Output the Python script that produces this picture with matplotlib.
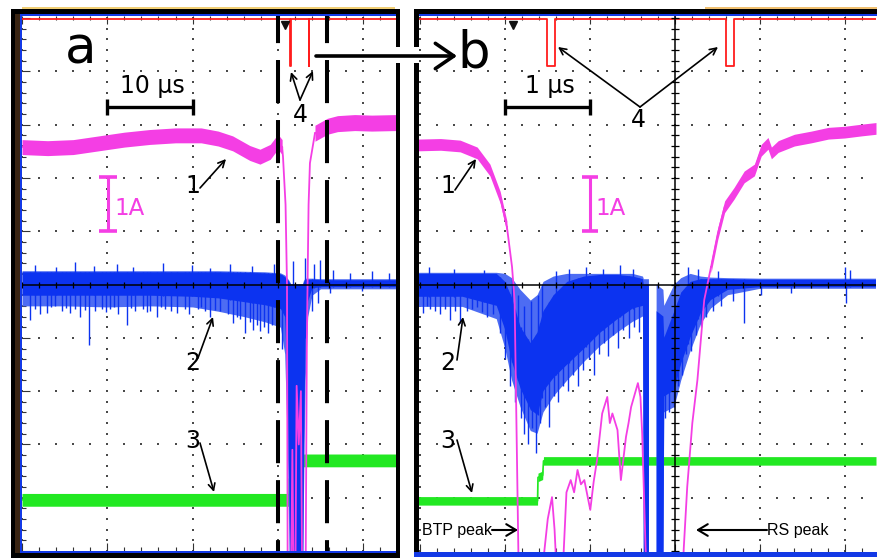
import numpy as np
import matplotlib
matplotlib.use("Agg")
import matplotlib.pyplot as plt
from matplotlib.patches import Rectangle
from matplotlib.ticker import MultipleLocator

plt.rcParams['font.family'] = ['DejaVu Sans']

W, H = 877, 559
nan = np.nan

# ================= DATA  (time in µs, amplitude in scope divisions) =================
# ---------- panel a : 10 µs / div ----------
mag_a_pre_t = [0, 3, 6, 9, 12, 15, 18, 21, 23, 24.7, 26.7, 27.9, 29.1, 30.0, 30.5]
mag_a_pre_y = [2.58, 2.56, 2.58, 2.65, 2.72, 2.77, 2.80, 2.80, 2.74, 2.65, 2.47, 2.40, 2.49, 2.68, 2.58]
mag_a_mid_t = [30.5, 30.6, 30.9, 31.07, 31.15, 31.55, 31.7, 31.85, 32.05, 32.2, 32.45, 32.7,
               32.85, 33.25, 33.4, 33.6, 33.76, 34.35]
mag_a_mid_y = [2.58, 2.40, 1.50, 0.0, -5.6, -5.6, -3.1, -5.6, -5.6, -1.9, -3.0, -2.0,
               -5.6, -5.6, -1.0, 1.5, 2.28, 2.84]
mag_a_post_t = [34.35, 35.8, 37, 39, 41, 43.85]
mag_a_post_y = [2.84, 2.97, 3.02, 3.04, 3.03, 3.04]

blue_a_t = [0.0, 5, 10, 15, 20, 23, 26, 28.5, 30.3, 30.8, 31.1, 31.3, 31.5, 32.9, 33.0, 33.2,
            33.5, 34.0, 35.0, 43.85]
blue_a_hi = [0.24, 0.24, 0.24, 0.24, 0.24, 0.24, 0.23, 0.22, 0.2, 0.15, 0.1, 0.05, 0.0, 0.0,
             0.05, 0.1, 0.1, 0.1, 0.09, 0.09]
blue_a_lo = [-0.2, -0.2, -0.2, -0.2, -0.22, -0.25, -0.32, -0.38, -0.45, -0.6, -2.0, -4.0, -5.5,
             -5.5, -3.0, -1.0, -0.3, -0.06, -0.04, -0.04]
blue_a_haze_hi = [0.26, 0.26, 0.26, 0.26, 0.26, 0.26, 0.25, 0.24, 0.22, 0.18, 0.12, 0.08, 0.02,
                  0.02, 0.08, 0.12, 0.12, 0.12, 0.11, 0.11]
blue_a_haze_lo = [-0.4, -0.4, -0.42, -0.4, -0.42, -0.5, -0.6, -0.7, -0.8, -1.3, -3.0,
                  -5.0, -5.5, -5.5, -4.0, -1.8, -0.6, -0.2, -0.08, -0.08]
blue_a_dn_t = [0.94, 1.5, 2.1, 2.9, 3.4, 3.9, 4.7, 5.2, 5.6, 6.2, 6.8, 7.4, 7.9, 8.6, 9.4, 9.9,
               10.3, 10.8, 11.3, 12.3, 12.8, 13.2, 14.2, 14.6, 15.0, 15.8, 16.3, 16.8, 17.5,
               18.2, 19.1, 19.6, 20.6, 21.0, 21.5, 22.0, 22.6, 23.2, 24.1, 24.7, 25.2, 25.6,
               26.1, 26.7, 27.1, 27.5, 27.9, 28.4, 28.8, 29.3, 29.9, 30.5, 34.0, 34.7, 36.1, 39.9]
blue_a_dn_y = [-0.67, -0.45, -0.55, -0.54, -0.42, -0.4, -0.5, -0.44, -0.54, -0.45, -0.6, -0.48,
               -1.13, -0.5, -0.45, -0.52, -0.46, -0.42, -0.55, -0.76, -0.44, -0.5, -0.46, -0.52,
               -0.5, -0.6, -0.43, -0.45, -0.5, -0.53, -0.45, -0.55, -0.46, -0.42, -0.5, -0.6,
               -0.47, -0.49, -0.55, -0.72, -0.6, -0.65, -0.91, -0.7, -0.85, -0.75, -0.88, -0.8,
               -0.91, -0.75, -0.84, -1.2, -0.5, -0.35, -0.15, -0.12]
blue_a_up_t = [1.5, 4.0, 6.2, 8.5, 11.1, 13.0, 16.5, 19.9, 22.0, 24.4, 27.0, 29.5, 31.8, 33.2,
               34.2, 34.9, 36.5, 38.5, 41.0, 43.0]
blue_a_up_y = [0.36, 0.33, 0.42, 0.34, 0.38, 0.33, 0.40, 0.36, 0.32, 0.38, 0.34, 0.38, 0.45, 0.5,
               0.38, 0.46, 0.28, 0.22, 0.25, 0.22]

green_a_t = [0, 31.3, 31.35, 31.55, 31.6, 43.85]
green_a_y = [-4.04, -4.04, -3.65, -3.6, -3.3, -3.3]

red_a_pulses = [31.4, 33.6]
trigger_a = 30.8
window_a = [30.0, 35.76]          # dashed lines: region enlarged in b

# ---------- panel b : 1 µs / div ----------
mag_b_pre_t = [-0.02, 0.24, 0.47, 0.67, 0.82, 0.94, 1.02]
mag_b_pre_y = [2.62, 2.63, 2.60, 2.47, 2.15, 1.64, 1.08]
mag_b_mid_t = [1.02, 1.08, 1.11, 1.16, 1.42, 1.50, 1.55, 1.58, 1.61, 1.67, 1.72, 1.77, 1.81,
               1.85, 1.89, 1.93, 2.00, 2.04, 2.08, 2.14, 2.20, 2.23, 2.26, 2.32, 2.36, 2.42,
               2.45, 2.48, 2.56, 2.59, 2.61, 2.65, 2.67, 3.08, 3.10, 3.14, 3.20, 3.26, 3.30,
               3.34, 3.42]
mag_b_mid_y = [1.08, 0.33, -0.3, -5.6, -5.6, -4.4, -3.99, -4.6, -5.6, -5.6, -3.9, -3.67, -3.9,
               -3.48, -3.75, -3.67, -4.23, -3.7, -3.29, -2.42, -2.11, -2.6, -2.42, -2.73,
               -3.67, -2.86, -2.6, -2.30, -1.85, -2.11, -2.79, -4.93, -5.6, -5.6, -4.93, -3.80,
               -2.60, -1.79, -1.04, -0.29, 0.33]
mag_b_post_t = [3.42, 3.50, 3.58, 3.69, 3.81, 3.93, 4.01, 4.09, 4.13, 4.21, 4.40, 4.60, 4.80,
                4.99, 5.19, 5.36]
mag_b_post_y = [0.33, 0.96, 1.46, 1.71, 2.02, 2.15, 2.52, 2.65, 2.47, 2.59, 2.71, 2.77, 2.84,
                2.86, 2.90, 2.93]

blue_b_t = [-0.03, 0.5, 0.9, 1.0, 1.08, 1.18, 1.3, 1.38, 1.45, 1.57, 1.73, 1.93, 2.12, 2.32,
            2.5, 2.62, 2.63, 2.69, 2.695, 2.775, 2.78, 2.86, 2.87, 2.99, 3.07, 3.18, 3.30,
            3.42, 3.62, 4.0, 5.36]
blue_b_hi = [0.2, 0.2, 0.2, 0.05, -0.25, -0.8, -1.1, -0.9, -0.5, -0.2, 0.05, 0.15, 0.18, 0.18,
             0.15, 0.1, 0.0, 0.0, nan, nan, -0.5, -0.6, -1.0, -0.5, -0.15, 0.05, 0.1, 0.1,
             0.1, 0.09, 0.09]
blue_b_lo = [-0.23, -0.23, -0.4, -0.85, -1.45, -1.95, -2.35, -2.45, -2.0, -1.75, -1.5, -1.2,
             -0.9, -0.65, -0.45, -0.4, -5.5, -5.5, nan, nan, -5.5, -5.5, -2.1, -1.98, -1.48,
             -0.99, -0.54, -0.29, -0.1, -0.05, -0.05]
blue_b_haze_hi = [0.22, 0.22, 0.22, 0.2, 0.12, -0.1, -0.3, -0.2, 0.05, 0.15, 0.2, 0.2, 0.2,
                  0.2, 0.2, 0.15, 0.1, 0.1, nan, nan, 0.0, -0.1, -0.4, 0.0, 0.12, 0.2, 0.15,
                  0.13, 0.12, 0.11, 0.11]
blue_b_haze_lo = [-0.42, -0.42, -0.65, -1.2, -1.8, -2.3, -2.75, -2.8, -2.4, -2.1, -1.8, -1.45,
                  -1.15, -0.9, -0.7, -0.6, -5.5, -5.5, nan, nan, -5.5, -5.5, -2.4, -2.3, -1.8,
                  -1.25, -0.75, -0.45, -0.2, -0.08, -0.08]
blue_b_dn_t = [0.03, 0.08, 0.11, 0.17, 0.23, 0.29, 0.35, 0.41, 0.47, 0.55, 0.61, 0.67, 0.73,
               0.79, 0.86, 0.94, 1.00, 1.06, 1.12, 1.18, 1.22, 1.27, 1.32, 1.36, 1.41, 1.47,
               1.52, 1.57, 1.62, 1.68, 1.74, 1.80, 1.86, 1.92, 1.98, 2.04, 2.10, 2.16, 2.21,
               2.27, 2.33, 2.39, 2.45, 2.51, 2.57, 2.88, 2.92, 2.98, 3.03, 3.08, 3.13, 3.18,
               3.24, 3.30, 3.36, 3.44, 3.54, 3.68, 3.81, 4.01, 4.36, 5.01]
blue_b_dn_y = [-0.54, -0.4, -0.45, -0.5, -0.55, -0.45, -0.67, -0.5, -0.72, -0.5, -0.45, -0.42,
               -0.52, -0.6, -0.55, -0.91, -1.4, -1.9, -2.2, -2.5, -2.8, -3.0, -2.7, -3.17, -2.6,
               -2.3, -2.67, -2.1, -2.2, -1.9, -2.0, -1.7, -1.9, -1.6, -1.4, -1.7, -1.3, -1.1,
               -1.35, -0.95, -1.2, -0.85, -1.0, -0.8, -0.9, -2.5, -2.4, -2.3, -1.9, -1.7, -1.3,
               -1.25, -0.95, -0.8, -0.6, -0.5, -0.4, -0.3, -0.73, -0.2, -0.15, -0.35]
blue_b_up_t = [0.10, 0.40, 0.75, 1.08, 1.15, 1.22, 1.30, 1.38, 1.43, 1.60, 1.75, 1.95, 2.15,
               2.35, 2.50, 3.15, 3.27, 3.50, 4.99, 5.05]
blue_b_up_y = [0.33, 0.3, 0.28, 0.10, -0.2, -0.4, -0.3, -0.2, 0.0, 0.25, 0.30, 0.33, 0.30,
               0.36, 0.30, 0.33, 0.30, 0.26, 0.33, 0.28]

green_b_t = [-0.02, 1.38, 1.385, 1.44, 1.45, 5.36]
green_b_y = [-4.06, -4.06, -3.62, -3.58, -3.31, -3.31]

red_b_pulses = [1.49, 3.60]
trigger_b = 1.09

# ================= STYLE =================
MAG = '#f43ee4'
BLUE = '#0c33f0'
BLUE_HAZE = '#4d6cf3'
GREEN = '#22e822'
RED = '#ff1c1c'
FRAME_BLUE = '#1339e6'
GRID = '#4a4a4a'

fig = plt.figure(figsize=(W / 100, H / 100), dpi=100)
fig.patch.set_facecolor('white')


def px_axes(x0, y0, x1, y1, **kw):
    return fig.add_axes([x0 / W, 1 - y1 / H, (x1 - x0) / W, (y1 - y0) / H], **kw)


ax_a = px_axes(22, 16, 396, 551)
ax_b = px_axes(418.5, 16, 876, 552)
ax_a.set_xlim(0, 43.85)
ax_a.set_ylim(-5.0, 5.04)
ax_b.set_xlim(-0.02, 5.36)
ax_b.set_ylim(-5.02, 5.04)


def scope_axes(ax, xdiv, left_ticks, vgrid, center_x):
    for s in ax.spines.values():
        s.set_visible(False)
    ax.xaxis.set_major_locator(MultipleLocator(xdiv))
    ax.xaxis.set_minor_locator(MultipleLocator(xdiv / 5))
    ax.yaxis.set_major_locator(MultipleLocator(1))
    ax.yaxis.set_minor_locator(MultipleLocator(0.2))
    ax.tick_params(which='both', direction='in', top=True, bottom=True, left=left_ticks,
                   right=False, labelbottom=False, labelleft=False, color='#333333', width=0.8)
    ax.tick_params(which='major', length=5.5)
    ax.tick_params(which='minor', length=3)
    x0, x1 = ax.get_xlim()
    ys = np.arange(-5, 5.001, 0.2)
    for xv in vgrid:
        ax.scatter(np.full(ys.shape, xv), ys, s=2.4, marker='s', color=GRID, lw=0, zorder=1)
    xs = np.arange(0, x1, xdiv / 5)
    for yv in [-4, -3, -2, -1, 1, 2, 3, 4]:
        ax.scatter(xs, np.full(xs.shape, yv), s=2.4, marker='s', color=GRID, lw=0, zorder=1)
    ax.axhline(0, color='black', lw=1.1, zorder=4)
    ax.plot(xs, np.zeros_like(xs), ls='none', marker='|', ms=5, mew=0.9, color='black', zorder=4)
    if center_x is not None:
        ax.axvline(center_x, color='black', lw=1.1, zorder=4)
        ax.plot(np.full(ys.shape, center_x), ys, ls='none', marker='_', ms=6, mew=0.9,
                color='black', zorder=4)


scope_axes(ax_a, 10, True, [0, 10, 20, 30, 40], None)
scope_axes(ax_b, 1, False, [0, 1, 2, 4, 5], 3)


def band(ax, t, y, hw, color, z, lw=1.2):
    t = np.asarray(t, float)
    y = np.asarray(y, float)
    ax.fill_between(t, y - hw, y + hw, color=color, lw=0, zorder=z)
    ax.plot(t, y, color=color, lw=lw, zorder=z)


def blue_trace(ax, t, hi, lo, hz_hi, hz_lo, dn_t, dn_y, up_t, up_y):
    t = np.asarray(t, float)
    hi = np.asarray(hi, float)
    lo = np.asarray(lo, float)
    ax.fill_between(t, np.asarray(hz_lo, float), np.asarray(hz_hi, float), color=BLUE_HAZE,
                    lw=0, zorder=2.4)
    ax.fill_between(t, lo, hi, color=BLUE, lw=0, zorder=2.5)
    m = ~np.isnan(hi)
    base_hi = np.interp(dn_t, t[m], hi[m])
    ax.vlines(dn_t, dn_y, base_hi, colors=BLUE, lw=1.0, zorder=2.6)
    base_lo = np.interp(up_t, t[m], lo[m])
    ax.vlines(up_t, base_lo, up_y, colors=BLUE, lw=1.0, zorder=2.6)


def red_trace(ax, pulses, width, x0, x1):
    t, y = [x0], [4.99]
    for p in pulses:
        t += [p, p, p + width, p + width]
        y += [4.99, 4.1, 4.1, 4.99]
    t.append(x1)
    y.append(4.99)
    ax.plot(t, y, color=RED, lw=1.3, zorder=3.5)


# ---- panel a traces
band(ax_a, green_a_t, green_a_y, 0.12, GREEN, 2.2)
blue_trace(ax_a, blue_a_t, blue_a_hi, blue_a_lo, blue_a_haze_hi, blue_a_haze_lo,
           blue_a_dn_t, blue_a_dn_y, blue_a_up_t, blue_a_up_y)
band(ax_a, mag_a_pre_t, mag_a_pre_y, 0.14, MAG, 3)
ax_a.plot(mag_a_mid_t, mag_a_mid_y, color=MAG, lw=1.3, zorder=3)
band(ax_a, mag_a_post_t, mag_a_post_y, 0.15, MAG, 3)
red_trace(ax_a, red_a_pulses, 0.1, 0, 43.85)
ax_a.plot([trigger_a], [4.88], marker='v', ms=6, color='#111111', zorder=6)
for xv in window_a:
    ax_a.plot([xv, xv], [5.04, -5.0], color='black', lw=2.9, ls=(3.97, (10.7, 4.2)), zorder=5)

# ---- panel b traces
band(ax_b, green_b_t, green_b_y, 0.08, GREEN, 2.2)
blue_trace(ax_b, blue_b_t, blue_b_hi, blue_b_lo, blue_b_haze_hi, blue_b_haze_lo,
           blue_b_dn_t, blue_b_dn_y, blue_b_up_t, blue_b_up_y)
band(ax_b, mag_b_pre_t, mag_b_pre_y, 0.11, MAG, 3)
ax_b.plot(mag_b_mid_t, mag_b_mid_y, color=MAG, lw=1.3, zorder=3)
band(ax_b, mag_b_post_t, mag_b_post_y, 0.11, MAG, 3)
red_trace(ax_b, red_b_pulses, 0.095, -0.02, 5.36)
ax_b.plot([trigger_b], [4.88], marker='v', ms=6, color='#111111', zorder=6)

# ================= OVERLAY (pixel coordinates) =================
ov = fig.add_axes([0, 0, 1, 1], zorder=10)
ov.set_xlim(0, W)
ov.set_ylim(H, 0)
ov.axis('off')
ov.patch.set_visible(False)


def R(x0, y0, x1, y1, c):
    ov.add_patch(Rectangle((x0, y0), x1 - x0, y1 - y0, color=c, lw=0))


# frame of a
R(10.5, 8.5, 15, 557.5, 'black')
R(15, 8.5, 20, 557, '#3a2412')
R(20, 14, 22, 553, FRAME_BLUE)
R(10.5, 8.5, 400, 14, 'black')
R(20, 14, 396, 16, FRAME_BLUE)
R(22, 6.5, 395, 8.5, '#f1cf75')
R(395.5, 8.5, 400, 47, 'black')
R(395.5, 63, 400, 557.5, 'black')
R(20, 551, 396, 553, FRAME_BLUE)
R(10.5, 553, 400, 557.5, 'black')
# frame of b
R(414, 8.5, 418.5, 47, 'black')
R(414, 63, 418.5, 557, 'black')
R(414, 8.5, 877, 14, 'black')
R(418.5, 14, 877, 16, FRAME_BLUE)
R(705, 6.5, 877, 8.5, '#f0c070')
R(414, 552, 877, 557, FRAME_BLUE)

# panel letters
ov.text(65, 63.5, 'a', fontsize=37, ha='left', va='baseline', color='black')
ov.text(457.5, 67, 'b', fontsize=37, ha='left', va='baseline', color='black')

# time scale bars
for (xa, xb), label in [((107, 193), '10 µs'), ((505, 590), '1 µs')]:
    ov.plot([xa, xb], [107, 107], color='black', lw=2.4, solid_capstyle='butt')
    ov.plot([xa, xa], [99, 115], color='black', lw=2.4, solid_capstyle='butt')
    ov.plot([xb, xb], [99, 115], color='black', lw=2.4, solid_capstyle='butt')
    ov.text((xa + xb) / 2 + 2, 93, label, fontsize=17, ha='center', va='baseline')

# 1 A scale bars
for xc, hw, tx in [(108, 9, 114), (590, 8, 595.5)]:
    ov.plot([xc, xc], [177, 231], color=MAG, lw=2.2, solid_capstyle='butt')
    ov.plot([xc - hw, xc + hw], [177, 177], color=MAG, lw=2.6, solid_capstyle='butt')
    ov.plot([xc - hw, xc + hw], [231, 231], color=MAG, lw=2.6, solid_capstyle='butt')
    ov.text(tx, 215, '1A', fontsize=16.5, ha='left', va='baseline', color=MAG)


def arrow(tail, head, lw=1.2, ms=12, style='->'):
    ov.annotate('', xy=head, xytext=tail,
                arrowprops=dict(arrowstyle=style, lw=lw, color='black', shrinkA=0, shrinkB=0,
                                mutation_scale=ms))


# channel number labels
for txt, x, yb in [('1', 193, 193), ('2', 193, 370), ('3', 193, 448), ('4', 300, 122),
                   ('1', 448, 193), ('2', 448, 370), ('3', 448, 448), ('4', 638, 127)]:
    ov.text(x, yb, txt, fontsize=17, ha='center', va='baseline')

arrow((200, 188), (226, 159))
arrow((198, 358), (213, 317))
arrow((200, 443), (214, 492))
arrow((300, 100), (291, 72))
arrow((300, 100), (313, 71))
arrow((455, 190), (476, 159))
arrow((457, 360), (463, 317))
arrow((457, 440), (472, 493))
arrow((640, 107), (558, 47))
arrow((640, 107), (718, 47))

# big arrow a -> b
arrow((316, 56), (457, 56), lw=2.6, ms=19, style='->,head_length=0.7,head_width=0.48')

# peak markers
ov.text(422, 535, 'BTP peak', fontsize=11.5, family=['Liberation Sans', 'DejaVu Sans'],
        ha='left', va='baseline')
arrow((492, 530), (518, 530), lw=1.5, ms=14, style='->,head_length=0.5,head_width=0.3')
ov.text(767, 535, 'RS peak', fontsize=11.5, family=['Liberation Sans', 'DejaVu Sans'],
        ha='left', va='baseline')
arrow((767, 530), (696, 530), lw=1.5, ms=14, style='->,head_length=0.5,head_width=0.3')

fig.savefig('out.png', dpi=100, facecolor='white')
